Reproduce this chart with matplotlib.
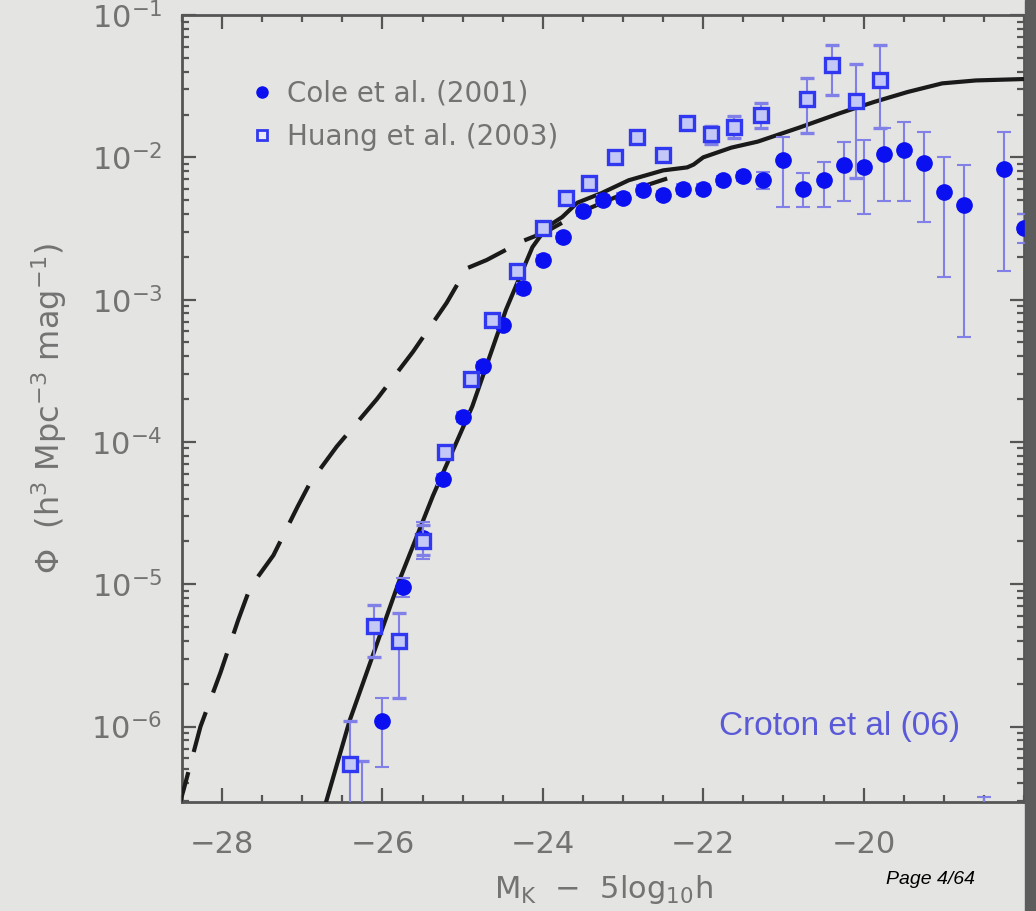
import matplotlib
matplotlib.use('Agg')
import matplotlib.pyplot as plt
from matplotlib.lines import Line2D
from matplotlib.patches import Rectangle
from matplotlib.ticker import LogLocator, MultipleLocator, FixedLocator, NullFormatter
import numpy as np

# Cole et al. (2001) K-band luminosity function
cole_mag = [-26.0, -25.75, -25.5, -25.25, -25.0, -24.75, -24.5, -24.25, -24.0,
            -23.75, -23.5, -23.25, -23.0, -22.75, -22.5, -22.25, -22.0, -21.75,
            -21.5, -21.25, -21.0, -20.75, -20.5, -20.25, -20.0, -19.75, -19.5,
            -19.25, -19.0, -18.75, -18.5, -18.25, -18.0]
cole_phi = [1.1e-6, 9.5e-6, 2.1e-5, 5.5e-5, 1.5e-4, 3.4e-4, 6.6e-4, 1.2e-3, 1.9e-3,
            2.75e-3, 4.2e-3, 5.0e-3, 5.2e-3, 5.9e-3, 5.4e-3, 6.0e-3, 6.0e-3, 6.9e-3,
            7.4e-3, 6.9e-3, 9.6e-3, 6.0e-3, 6.9e-3, 8.9e-3, 8.6e-3, 1.05e-2, 1.12e-2,
            9.1e-3, 5.7e-3, 4.6e-3, 1.5e-7, 8.3e-3, 3.2e-3]
cole_lo = [5.2e-7, 8.2e-6, 1.5e-5, 5.0e-5, 1.38e-4, 3.15e-4, 6.1e-4, 1.1e-3, 1.75e-3,
           2.55e-3, 3.9e-3, 4.6e-3, 4.8e-3, 5.45e-3, 5.0e-3, 5.55e-3, 5.55e-3, 6.4e-3,
           6.85e-3, 6.0e-3, 4.5e-3, 4.5e-3, 4.5e-3, 4.9e-3, 4.0e-3, 4.9e-3, 4.9e-3,
           3.5e-3, 1.45e-3, 5.5e-4, 1.0e-7, 1.58e-3, 2.5e-3]
cole_hi = [1.6e-6, 1.1e-5, 2.75e-5, 6.0e-5, 1.62e-4, 3.65e-4, 7.1e-4, 1.3e-3, 2.05e-3,
           2.95e-3, 4.5e-3, 5.4e-3, 5.6e-3, 6.35e-3, 5.8e-3, 6.45e-3, 6.45e-3, 7.4e-3,
           7.95e-3, 7.9e-3, 1.38e-2, 7.8e-3, 9.3e-3, 1.29e-2, 1.32e-2, 1.62e-2, 1.78e-2,
           1.51e-2, 1.0e-2, 8.9e-3, 3.2e-7, 1.51e-2, 4.0e-3]

# Huang et al. (2003)
huang_mag = [-26.4, -26.25, -26.1, -25.8, -25.5, -25.22, -24.9, -24.63, -24.32, -24.0,
             -23.71, -23.42, -23.1, -22.82, -22.5, -22.2, -21.9, -21.62, -21.28,
             -20.7, -20.4, -20.1, -19.8]
huang_phi = [5.5e-7, 2.0e-7, 5.1e-6, 4.0e-6, 2.0e-5, 8.5e-5, 2.75e-4, 7.2e-4, 1.6e-3,
             3.2e-3, 5.2e-3, 6.6e-3, 1.0e-2, 1.38e-2, 1.04e-2, 1.74e-2, 1.45e-2,
             1.63e-2, 2.0e-2, 2.55e-2, 4.45e-2, 2.5e-2, 3.5e-2]
huang_lo = [1.0e-7, 1.0e-7, 3.1e-6, 1.6e-6, 1.6e-5, 7.8e-5, 2.55e-4, 6.7e-4, 1.5e-3,
            3.0e-3, 4.85e-3, 6.15e-3, 9.3e-3, 1.28e-2, 9.6e-3, 1.6e-2, 1.24e-2,
            1.36e-2, 1.6e-2, 1.48e-2, 2.75e-2, 7.2e-3, 1.62e-2]
huang_hi = [1.1e-6, 5.7e-7, 7.1e-6, 6.3e-6, 2.6e-5, 9.2e-5, 2.95e-4, 7.7e-4, 1.7e-3,
            3.4e-3, 5.6e-3, 7.1e-3, 1.08e-2, 1.48e-2, 1.12e-2, 1.88e-2, 1.66e-2,
            1.95e-2, 2.4e-2, 3.6e-2, 6.2e-2, 4.5e-2, 6.2e-2]

# model with AGN feedback (solid)
model_mag = [-26.75, -26.41, -25.78, -25.37, -24.88, -24.46, -24.13, -23.95, -23.76,
             -23.57, -23.27, -22.93, -22.5, -22.2, -22.12, -22.0, -21.65, -21.32,
             -20.8, -20.3, -19.87, -19.45, -19.02, -18.6, -18.0]
model_phi = [2.4e-7, 1.1e-6, 1.1e-5, 4.2e-5, 1.78e-4, 8.5e-4, 2.34e-3, 3.24e-3, 3.8e-3,
             4.8e-3, 5.6e-3, 6.9e-3, 8.1e-3, 8.5e-3, 8.9e-3, 1.0e-2, 1.17e-2, 1.29e-2,
             1.62e-2, 2.04e-2, 2.45e-2, 2.88e-2, 3.31e-2, 3.47e-2, 3.55e-2]

# model without feedback (dashed)
nofb_mag = [-28.56, -28.48, -28.27, -28.02, -27.8, -27.65, -27.36, -27.06, -26.9,
            -26.57, -26.07, -25.62, -25.2, -24.95, -24.7, -24.26, -23.96, -23.5,
            -22.85, -22.45]
nofb_phi = [2.5e-7, 3.6e-7, 1.0e-6, 2.4e-6, 5.6e-6, 9.5e-6, 1.6e-5, 3.5e-5, 5.2e-5,
            9.3e-5, 2.0e-4, 4.3e-4, 9.5e-4, 1.66e-3, 1.9e-3, 2.57e-3, 3.0e-3, 4.2e-3,
            6.0e-3, 7.1e-3]

xticks = [-28, -26, -24, -22, -20]

bg = '#e4e4e2'
txt = '#737373'
blue = '#0a10f0'
ebar = '#8080e8'

fig = plt.figure(figsize=(10.36, 9.11), dpi=100, facecolor=bg)
ax = fig.add_axes([0.1757, 0.1196, 0.8127, 0.8639])
ax.set_facecolor(bg)

ax.plot(nofb_mag, nofb_phi, color='#1a1a1a', lw=3.0, dashes=(10, 5), zorder=3)
ax.plot(model_mag, model_phi, color='#1a1a1a', lw=3.0, zorder=3)

c_phi = np.array(cole_phi)
c_err = [c_phi - np.array(cole_lo), np.array(cole_hi) - c_phi]
ax.errorbar(cole_mag, c_phi, yerr=c_err, fmt='o', ms=11, color=blue, mec=blue,
            ecolor=ebar, elinewidth=1.5, capsize=5, capthick=1.5, zorder=4)

h_phi = np.array(huang_phi)
h_err = [h_phi - np.array(huang_lo), np.array(huang_hi) - h_phi]
ax.errorbar(huang_mag, h_phi, yerr=h_err, fmt='s', ms=10, mfc='#c4c8f6', mec='#3038f0',
            mew=2.4, ecolor=ebar, elinewidth=1.5, capsize=5, capthick=1.5, zorder=5)

ax.set_yscale('log')
ax.set_xlim(-28.5, -18.0)
ax.set_ylim(2.95e-7, 1e-1)

ax.xaxis.set_major_locator(FixedLocator(xticks))
ax.xaxis.set_minor_locator(MultipleLocator(0.5))
ax.yaxis.set_major_locator(LogLocator(base=10, numticks=20))
ax.yaxis.set_minor_locator(LogLocator(base=10, subs=np.arange(2, 10), numticks=20))
ax.yaxis.set_minor_formatter(NullFormatter())
ax.tick_params(which='both', direction='in', top=True, right=True,
               colors='#555555', labelcolor=txt, labelsize=22, width=1.6)
ax.tick_params(which='major', length=10)
ax.tick_params(axis='x', which='major', pad=20)
ax.tick_params(axis='y', which='major', pad=14)
ax.tick_params(which='minor', length=5)
for s in ax.spines.values():
    s.set_color('#555555')
    s.set_linewidth(2.0)

ax.set_xlabel(r'M$_{\rm K}$  $-$  5log$_{10}$h', fontsize=22, color=txt, labelpad=10)
ax.set_ylabel('\u03a6  (h$^3$ Mpc$^{-3}$ mag$^{-1}$)', fontsize=23, color=txt, labelpad=16)

handles = [Line2D([], [], ls='none', marker='o', ms=8, color=blue),
           Line2D([], [], ls='none', marker='s', ms=7, mfc='#e8e8fa', mec='#3038f0', mew=2)]
leg = ax.legend(handles, ['Cole et al. (2001)', 'Huang et al. (2003)'],
                loc='upper left', bbox_to_anchor=(0.055, 0.95), frameon=False,
                handlelength=0.6, handletextpad=0.6, labelspacing=0.55,
                prop={'size': 20})
for t in leg.get_texts():
    t.set_color(txt)

ax.text(0.638, 0.085, 'Croton et al (06)', transform=ax.transAxes, fontsize=24,
        color='#5a5ad8', family='Liberation Sans')
fig.text(0.855, 0.030, 'Page 4/64', fontsize=14, style='italic', color='black',
         family='Liberation Sans')

# dark strip at the right border
fig.patches.append(Rectangle((0.9895, 0), 0.0105, 1, transform=fig.transFigure,
                             color='#5c5c5c', zorder=10))

fig.savefig('out.png', dpi=100, facecolor=bg)
